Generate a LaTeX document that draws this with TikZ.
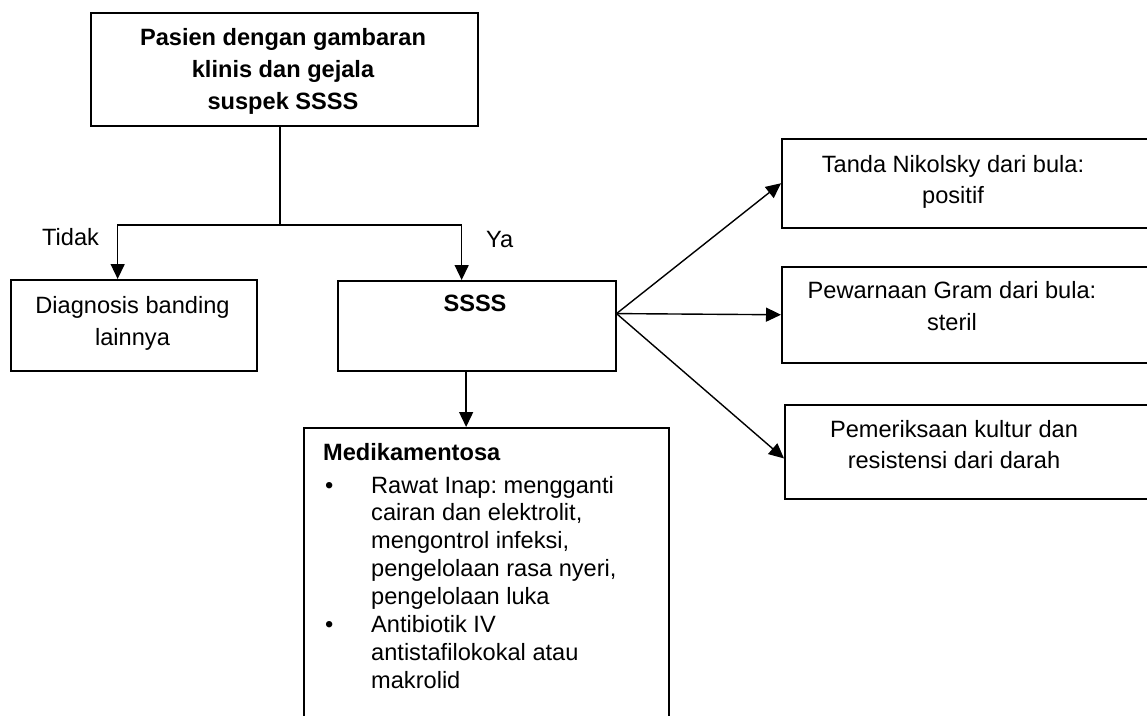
\documentclass[tikz,border=0pt]{standalone}
\usepackage{fontspec}
\setmainfont{Liberation Sans}
\usetikzlibrary{arrows.meta,calc}
\frenchspacing

\newcommand{\txt}{\fontsize{23.6}{31.5}\selectfont}

\begin{document}
\begin{tikzpicture}[x=1pt,y=-1pt,
  box/.style={draw,line width=1.5pt,rectangle,inner sep=0pt,anchor=north west},
  lbl/.style={inner sep=0pt,font=\txt},
  arr/.style={line width=1.4pt,-{Triangle[length=15pt,width=14pt]}},
  wire/.style={line width=1.4pt}]
\useasboundingbox (0,0) rectangle (1147,715);
\clip (0,0) rectangle (1147,715);

% boxes
\node[box,minimum width=387pt,minimum height=113pt] (top) at (90,12) {};
\node[box,minimum width=246pt,minimum height=91pt] (diag) at (10,279) {};
\node[box,minimum width=278pt,minimum height=90pt] (ssss) at (337,280) {};
\node[box,minimum width=365pt,minimum height=320pt] (med) at (303,427) {};
\node[box,minimum width=390pt,minimum height=89pt] (tanda) at (781,138) {};
\node[box,minimum width=390pt,minimum height=96pt] (gram) at (781,266) {};
\node[box,minimum width=390pt,minimum height=94pt] (kultur) at (784,404) {};

% texts
\node[lbl,anchor=base,font=\fontsize{23.6}{32}\selectfont\bfseries] (toptext) at (283,45)
  {\begin{tabular}[t]{@{}c@{}}Pasien dengan gambaran\\klinis dan gejala\\ suspek SSSS\end{tabular}};
\node[lbl,anchor=base west] (tidak) at (42,245) {Tidak};
\node[lbl,anchor=base west] (ya) at (486,247) {Ya};
\node[lbl,anchor=base,font=\fontsize{23.6}{32}\selectfont] (diagtext) at (132.5,313)
  {\begin{tabular}[t]{@{}c@{}}Diagnosis banding\\lainnya\end{tabular}};
\node[lbl,anchor=base,font=\txt\bfseries] (ssstext) at (475,311) {SSSS};
\node[lbl,anchor=base west,font=\txt\bfseries] (medtitle) at (323,460) {Medikamentosa};
\node[lbl,anchor=base west,font=\fontsize{23.6}{27.9}\selectfont] (medlist) at (325,493)
  {\begin{tabular}[t]{@{}p{46pt}@{}l@{}}
   \textbullet & Rawat Inap: mengganti\\
   & cairan dan elektrolit,\\
   & mengontrol infeksi,\\
   & pengelolaan rasa nyeri,\\
   & pengelolaan luka\\
   \textbullet & Antibiotik IV\\
   & antistafilokokal atau\\
   & makrolid
   \end{tabular}};
\node[lbl,anchor=base] (tandatext) at (953,172)
  {\begin{tabular}[t]{@{}c@{}}Tanda Nikolsky dari bula:\\positif\end{tabular}};
\node[lbl,anchor=base,font=\fontsize{23.6}{32}\selectfont] (gramtext) at (952,298)
  {\begin{tabular}[t]{@{}c@{}}Pewarnaan Gram dari bula:\\steril\end{tabular}};
\node[lbl,anchor=base] (kulturtext) at (954,437)
  {\begin{tabular}[t]{@{}c@{}}Pemeriksaan kultur dan\\resistensi dari darah\end{tabular}};

% connectors
\coordinate (split) at (280,225);
\draw[wire] (top.south -| split) -- (split);
\draw[arr] (split) -| ($(diag.north west)!0.435!(diag.north east)$);
\draw[arr] (split) -| ($(ssss.north west)!0.446!(ssss.north east)$);
\coordinate (medfrom) at ($(ssss.south west)!0.462!(ssss.south east)$);
\draw[arr] (medfrom) -- (medfrom |- med.north);
\coordinate (fan) at ($(ssss.north east)!0.367!(ssss.south east)$);
\draw[arr] (fan) -- (tanda.west);
\draw[arr] (fan) -- (gram.west);
\draw[arr] (fan) -- ($(kultur.north west)!0.57!(kultur.south west)$);
\end{tikzpicture}
\end{document}
